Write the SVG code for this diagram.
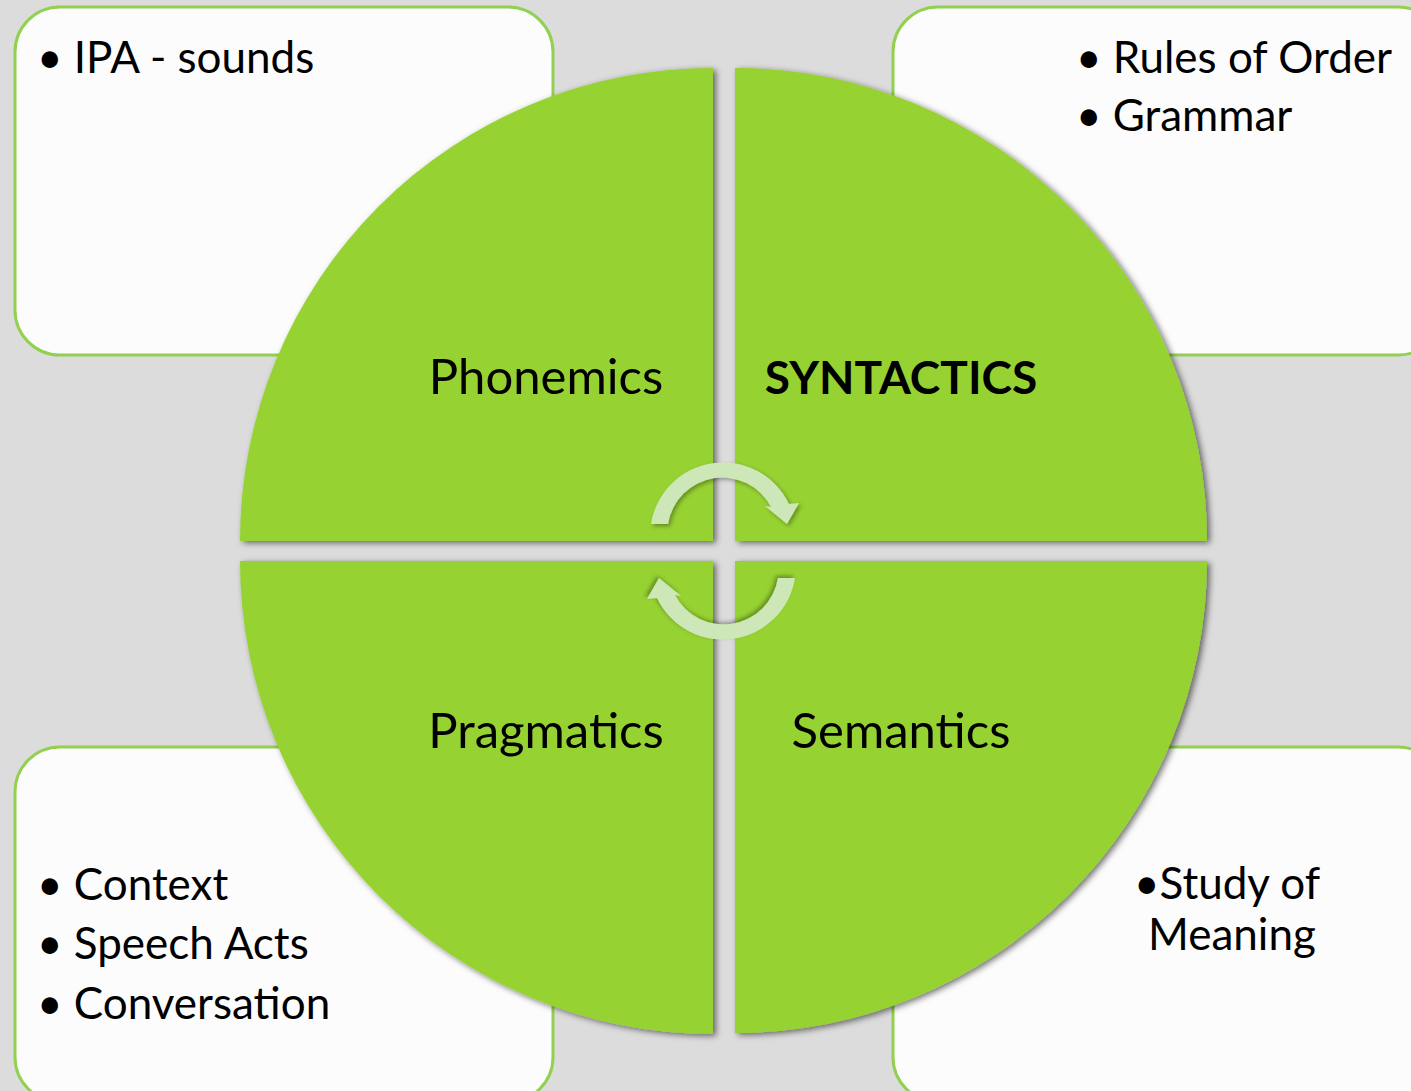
<svg xmlns="http://www.w3.org/2000/svg" width="1411" height="1091" viewBox="0 0 1411 1091">
<style>
.box{fill:#fcfcfc;stroke:#92d050;stroke-width:3}
.quad{fill:#96d230}
.arrow{fill:#cde7b8}
.t{font-family:Lato,"Liberation Sans",sans-serif;font-size:44px;fill:#000}
.lbl{font-family:Lato,"Liberation Sans",sans-serif;font-size:49px;fill:#000}
.b{font-weight:bold;font-size:46px}
</style>
<defs>
<filter id="sh" x="-10%" y="-10%" width="120%" height="120%">
<feDropShadow dx="3" dy="2" stdDeviation="3" flood-color="#000" flood-opacity="0.55"/>
</filter>
<filter id="ash" x="-20%" y="-20%" width="140%" height="140%">
<feDropShadow dx="2" dy="2" stdDeviation="2" flood-color="#000" flood-opacity="0.35"/>
</filter>
</defs>
<rect width="1411" height="1091" fill="#dcdcdc"/>
<g id="box-tl"><rect class="box" x="15" y="7" width="538" height="348" rx="45"/><text class="t" x="37" y="73">• IPA - sounds</text></g>
<g id="box-tr"><rect class="box" x="893" y="7" width="550" height="348" rx="45"/><text class="t" x="1076" y="73">• Rules of Order</text><text class="t" x="1076" y="131">• Grammar</text></g>
<g id="box-bl"><rect class="box" x="15" y="747" width="538" height="355" rx="45"/><text class="t" x="37" y="900">• Context</text><text class="t" x="37" y="959">• Speech Acts</text><text class="t" x="37" y="1019">• Conversation</text></g>
<g id="box-br"><rect class="box" x="893" y="747" width="550" height="355" rx="45"/><text class="t" x="1134" y="899">•Study of</text><text class="t" x="1148" y="950">Meaning</text></g>
<g id="phonemics"><path class="quad" filter="url(#sh)" d="M713,541 L240,541 A473,473 0 0 1 713,68 Z"/><text class="lbl" x="546" y="394" text-anchor="middle">Phonemics</text></g>
<g id="syntactics"><path class="quad" filter="url(#sh)" d="M735,541 L735,68 A472,472 0 0 1 1207,541 Z"/><text class="lbl b" x="901" y="394" text-anchor="middle">SYNTACTICS</text></g>
<g id="semantics"><path class="quad" filter="url(#sh)" d="M735,561 L1207,561 A472,472 0 0 1 735,1033 Z"/><text class="lbl" x="901" y="748" text-anchor="middle">Semantics</text></g>
<g id="pragmatics"><path class="quad" filter="url(#sh)" d="M713,561 L713,1034 A473,473 0 0 1 240,561 Z"/><text class="lbl" x="546" y="748" text-anchor="middle">Pragmatics</text></g>
<g id="connectors">
<path id="arrow-top" class="arrow" filter="url(#ash)" d="M651,524 A73,73 0 0 1 789,504 L799,503 L787,524 L765,506 L771,507 A55,55 0 0 0 668,524 Z"/>
<path id="arrow-bottom" class="arrow" filter="url(#ash)" transform="rotate(180 723 551)" d="M651,524 A73,73 0 0 1 789,504 L799,503 L787,524 L765,506 L771,507 A55,55 0 0 0 668,524 Z"/>
</g>
</svg>
